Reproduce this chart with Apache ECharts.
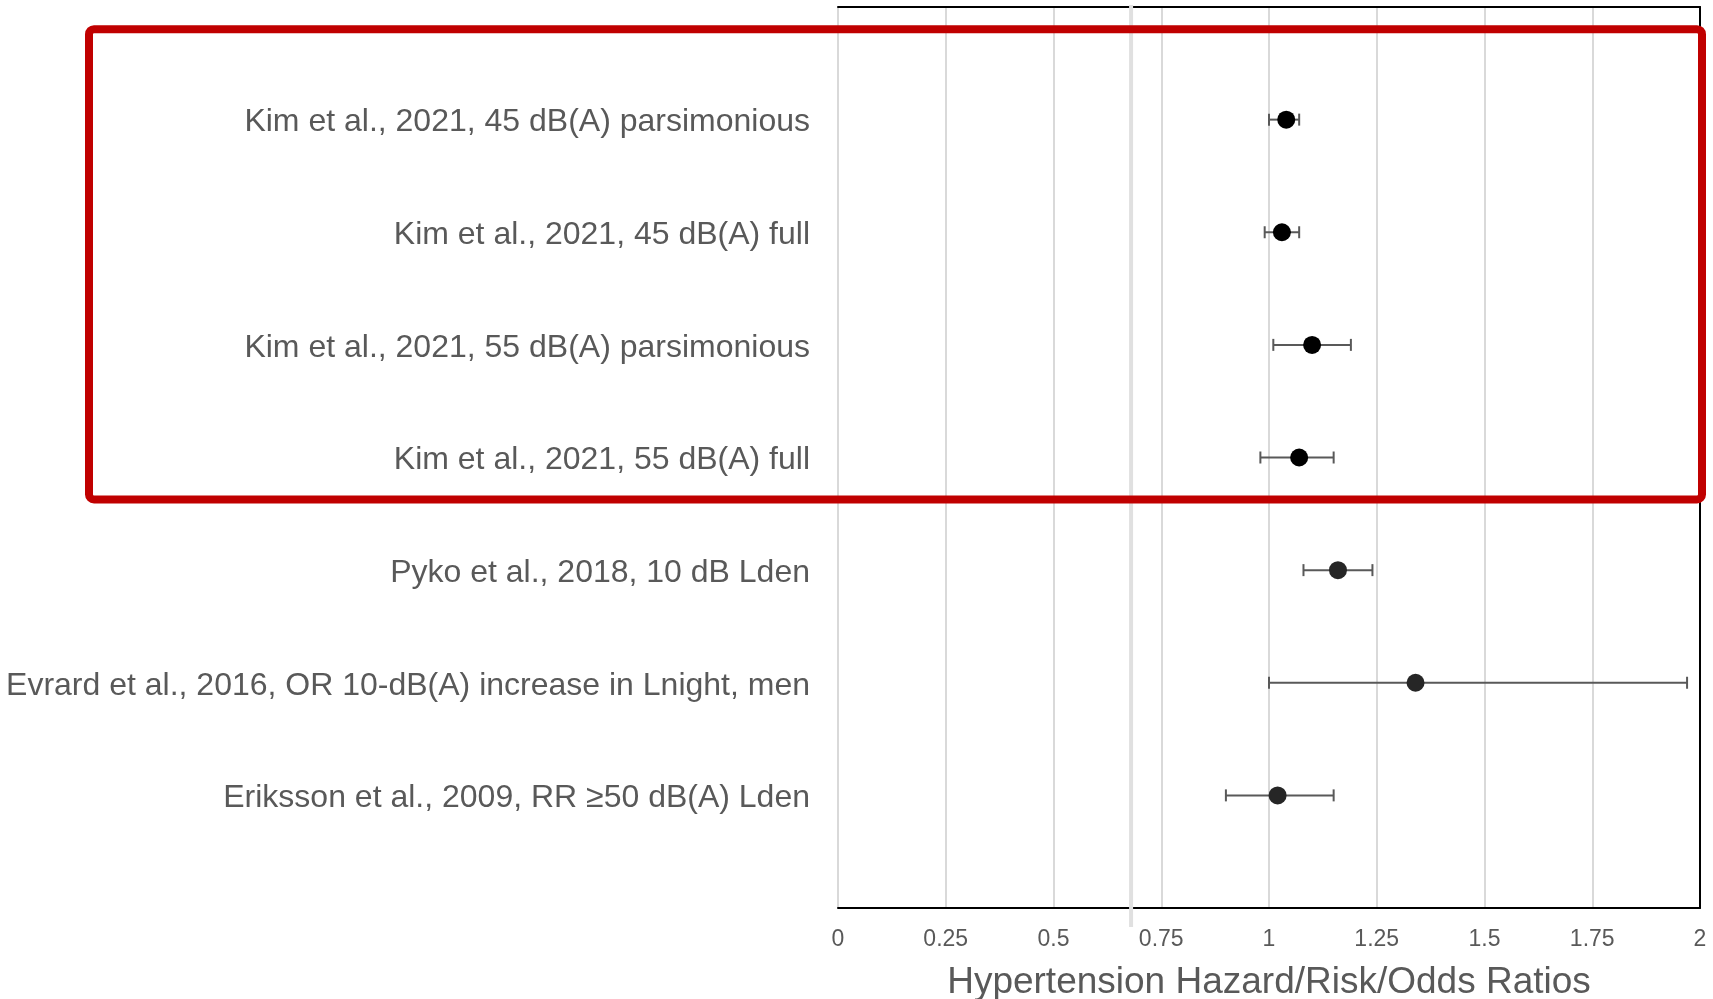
<!DOCTYPE html>
<html>
<head>
<meta charset="utf-8">
<style>
  html, body { margin: 0; padding: 0; background: #fff; }
  #chart { width: 1713px; height: 999px; }
</style>
<script src="https://cdn.jsdelivr.net/npm/echarts@6/dist/echarts.min.js"></script>
</head>
<body>
<div id="chart"></div>
<script>
// ---- data ----
const studyLabels = [
  'Kim et al., 2021, 45 dB(A) parsimonious',
  'Kim et al., 2021, 45 dB(A) full',
  'Kim et al., 2021, 55 dB(A) parsimonious',
  'Kim et al., 2021, 55 dB(A) full',
  'Pyko et al., 2018, 10 dB Lden',
  'Evrard et al., 2016, OR 10-dB(A) increase in Lnight, men',
  'Eriksson et al., 2009, RR \u226550 dB(A) Lden'
];
const estimates = [1.04, 1.03, 1.10, 1.07, 1.16, 1.34, 1.02];
const lowerCI   = [1.00, 0.99, 1.01, 0.98, 1.08, 1.00, 0.90];
const upperCI   = [1.07, 1.07, 1.19, 1.15, 1.24, 1.97, 1.15];
const xTickLabels = ['0', '0.25', '0.5', '0.75', '1', '1.25', '1.5', '1.75', '2'];
const axisTitle = 'Hypertension Hazard/Risk/Odds Ratios';
const refLineValue = 0.68;

// ---- build ----
const yCats = [''].concat(studyLabels).concat(['']);
const FONT = "'Liberation Sans', Arial, sans-serif";
const TEXT = '#595959';

const pointData = estimates.map((v, i) => ({
  value: [v, i + 1],
  itemStyle: { color: i < 4 ? '#000000' : '#262626', opacity: 1 }
}));
const ciData = lowerCI.map((lo, i) => [lo, upperCI[i], i + 1]);

const chart = echarts.init(document.getElementById('chart'), null, { renderer: 'canvas' });

const option = {
  backgroundColor: '#ffffff',
  animation: false,
  grid: { left: 838, right: 13, top: 7, bottom: 91, containLabel: false, outerBoundsMode: 'none' },
  xAxis: [
    {
      type: 'value', min: 0, max: 2, interval: 0.25, position: 'bottom',
      axisLine: { show: true, onZero: false, lineStyle: { color: '#000', width: 2 } },
      axisTick: { show: false },
      splitLine: { show: true, lineStyle: { color: '#d9d9d9', width: 2 } },
      axisLabel: {
        color: TEXT, fontSize: 23, fontFamily: FONT, margin: 20,
        formatter: (v) => xTickLabels[Math.round(v / 0.25)]
      },
      name: axisTitle, nameLocation: 'middle', nameGap: 56,
      nameTextStyle: { color: TEXT, fontSize: 37, fontFamily: FONT }
    },
    {
      type: 'value', min: 0, max: 2, interval: 0.25, position: 'top',
      axisLine: { show: true, onZero: false, lineStyle: { color: '#000', width: 2 } },
      axisTick: { show: false }, axisLabel: { show: false }, splitLine: { show: false }
    }
  ],
  yAxis: [
    {
      type: 'category', data: yCats, inverse: true, boundaryGap: false, position: 'left',
      axisLine: { show: false, onZero: false }, axisTick: { show: false }, splitLine: { show: false },
      axisLabel: {
        margin: 28,
        formatter: (v) => (v ? '{s|' + v + '}' : ''),
        rich: { s: { color: TEXT, fontSize: 32, fontFamily: FONT, padding: [6, 0, 0, 0] } }
      }
    },
    {
      type: 'category', data: yCats, inverse: true, boundaryGap: false, position: 'right',
      axisLine: { show: true, onZero: false, lineStyle: { color: '#000', width: 2 } },
      axisTick: { show: false }, axisLabel: { show: false }, splitLine: { show: false }
    }
  ],
  series: [
    {
      type: 'custom',
      xAxisIndex: 0, yAxisIndex: 0,
      data: ciData,
      encode: { x: [0, 1], y: 2 },
      z: 3,
      renderItem: function (params, api) {
        const lo = api.coord([api.value(0), api.value(2)]);
        const hi = api.coord([api.value(1), api.value(2)]);
        const h = 6;
        const style = { stroke: '#595959', lineWidth: 2, fill: null };
        return {
          type: 'group',
          children: [
            { type: 'line', shape: { x1: lo[0], y1: lo[1], x2: hi[0], y2: hi[1] }, style: style },
            { type: 'line', shape: { x1: lo[0], y1: lo[1] - h, x2: lo[0], y2: lo[1] + h }, style: style },
            { type: 'line', shape: { x1: hi[0], y1: hi[1] - h, x2: hi[0], y2: hi[1] + h }, style: style }
          ]
        };
      }
    },
    {
      type: 'scatter',
      xAxisIndex: 0, yAxisIndex: 0,
      data: pointData,
      symbol: 'circle', symbolSize: 18, z: 4,
      itemStyle: { opacity: 1 }
    }
  ]
};
chart.setOption(option);

// annotation elements (reference line artifact and highlight box)
const refX = chart.convertToPixel({ xAxisIndex: 0 }, refLineValue);
const yTop = chart.convertToPixel({ yAxisIndex: 0 }, 0);
const yBot = chart.convertToPixel({ yAxisIndex: 0 }, 8);
const row1 = chart.convertToPixel({ yAxisIndex: 0 }, 1);
const row4 = chart.convertToPixel({ yAxisIndex: 0 }, 4);
chart.setOption({
  graphic: [
    {
      type: 'line', z: 50,
      shape: { x1: refX, y1: yTop - 2, x2: refX, y2: yBot + 19 },
      style: { stroke: '#e0e0e0', lineWidth: 4 }
    },
    {
      type: 'rect', z: 60,
      shape: { x: 89, y: row1 - 90.5, width: 1613, height: (row4 + 42) - (row1 - 90.5), r: 5 },
      style: { stroke: '#c00000', lineWidth: 8, fill: null }
    }
  ]
});
</script>
</body>
</html>
